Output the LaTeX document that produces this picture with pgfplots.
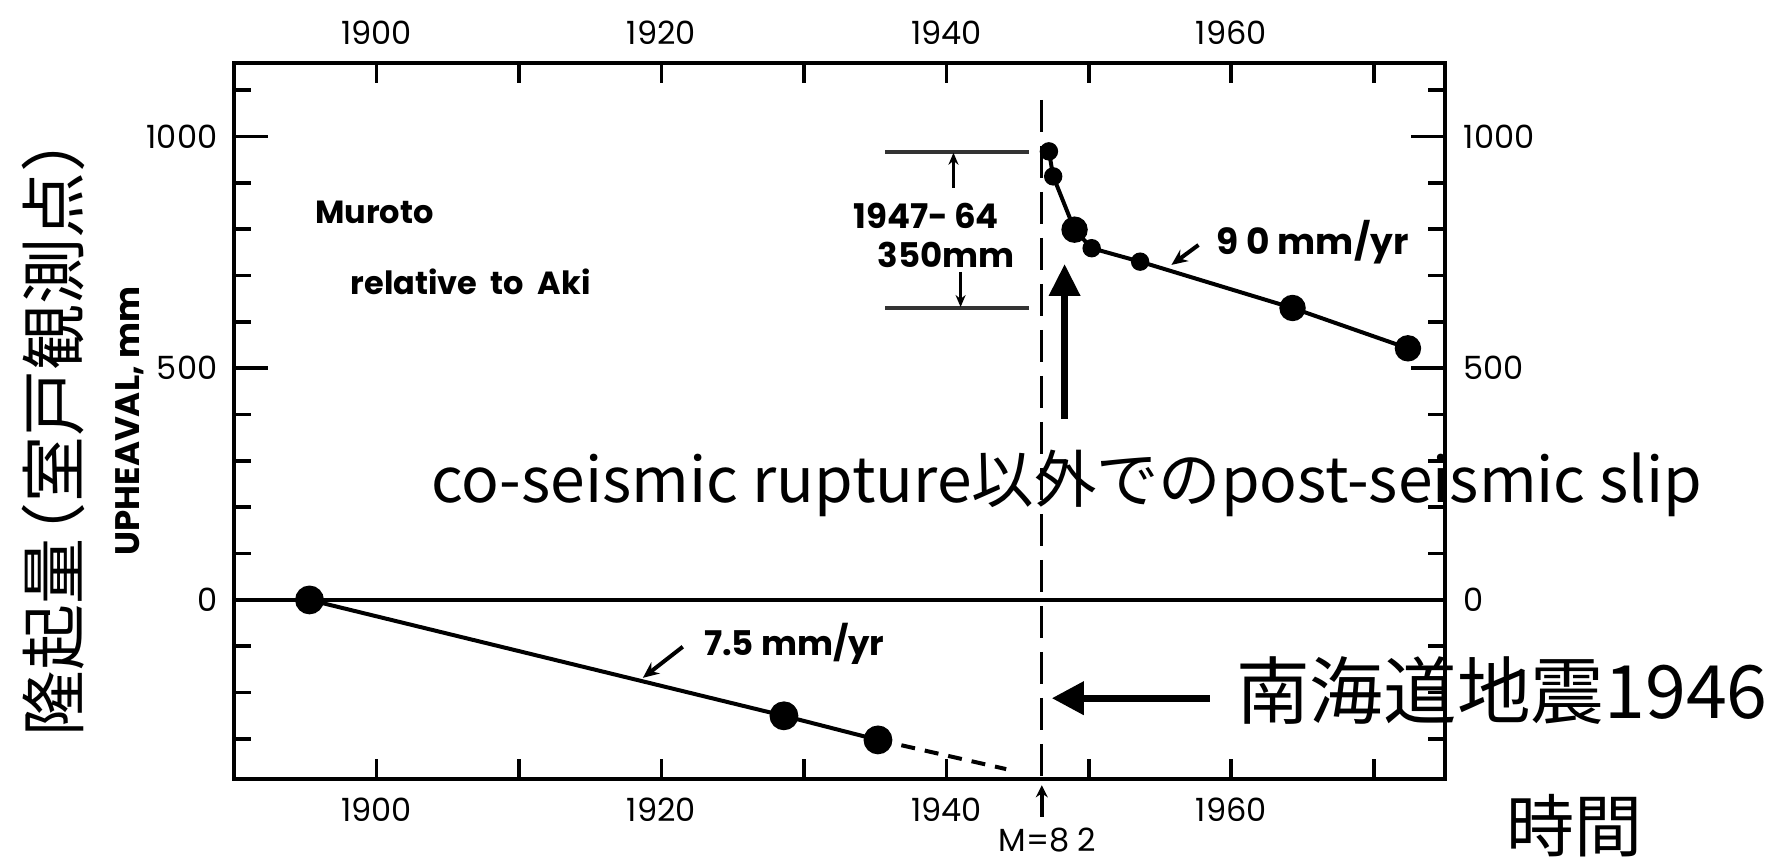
\documentclass[border=0pt]{standalone}
\usepackage{fontspec}
\setmainfont{Poppins}
\newfontfamily\jp{Noto Sans CJK JP}
\usepackage{pgfplots}
\pgfplotsset{compat=1.18}
\usetikzlibrary{arrows.meta}
\begin{document}
\begin{tikzpicture}
\pgfplotsset{
  base/.style={
    at={(0pt,0pt)}, anchor=south west,
    scale only axis, width=302.75pt, height=179pt,
    xmin=1890, xmax=1975, ymin=-387, ymax=1158,
    axis line style={line width=1pt},
    /pgf/number format/assume math mode=true,
    tick style={line width=0.9pt, black},
    ticklabel style={font=\fontsize{8}{9}\selectfont},
  }
}
% axis 2: y ticks + left labels, top x labels
\begin{axis}[base,
  ytick={0,500,1000}, minor ytick={-300,-200,...,1100},
  major tick length=8.5pt, minor tick length=4.25pt,
  yticklabel pos=left, yticklabels={0,500,1000},
  yticklabel style={inner xsep=4pt},
  xtick={1900,1920,1940,1960}, xticklabels={1900,1920,1940,1960},
  xticklabel pos=upper, xtick style={draw=none},
  xticklabel style={inner ysep=4.5pt},
]
\end{axis}
% axis 3: right labels
\begin{axis}[base,
  ytick={0,500,1000}, yticklabels={0,500,1000},
  yticklabel pos=right, ytick style={draw=none},
  yticklabel style={inner xsep=4.5pt},
  xtick=\empty,
]
\end{axis}
% axis 1: data, x ticks, bottom labels
\begin{axis}[base, clip=false,
  xtick={1900,1910,...,1970},
  xticklabels={1900,,1920,,1940,,1960,},
  xticklabel pos=lower,
  xticklabel style={inner ysep=4.5pt},
  major tick length=5pt,
  ytick=\empty,
]
% zero line
\draw[line width=1.2pt] (axis cs:1890,0) -- (axis cs:1943.3,0);
\draw[line width=0.8pt] (axis cs:1943.3,0) -- (axis cs:1975,0);
% event line
\draw[line width=0.75pt, dash pattern=on 8pt off 3.5pt] (axis cs:1946.7,1079) -- (axis cs:1946.7,-387);
\draw[line width=0.9pt, -{Stealth[length=3pt,width=3pt]}] (axis cs:1946.7,-468) -- (axis cs:1946.7,-400);
\node[font=\fontsize{8}{9}\selectfont] at (axis cs:1947.1,-518) {M=8 2};
% data
\addplot[line width=1pt, black, mark=*, mark size=3.1pt, mark options={fill=black}] coordinates {(1895.3,0) (1928.6,-250) (1935.2,-302)};
\addplot[line width=1pt, black, dash pattern=on 3.5pt off 2.5pt] coordinates {(1935.2,-302) (1944.2,-365)};
\addplot[line width=1pt, black, mark=none] coordinates {(1947.2,968) (1947.5,914) (1949.0,799) (1950.2,759) (1953.6,730) (1964.3,630) (1972.4,543)};
\addplot[only marks, black, mark=*, mark size=3.1pt, mark options={fill=black}] coordinates {(1949.0,799) (1964.3,630) (1972.4,543)};
\addplot[only marks, black, mark=*, mark size=2.1pt, mark options={fill=black}] coordinates {(1947.2,968) (1947.5,914) (1950.2,759) (1953.6,730)};
% bracket
\draw[line width=1pt, black!80] (axis cs:1935.7,967) -- (axis cs:1945.8,967);
\draw[line width=1pt, black!80] (axis cs:1935.7,630) -- (axis cs:1945.8,630);
\draw[line width=0.8pt, -{Stealth[length=3pt,width=2.5pt]}] (axis cs:1940.5,889) -- (axis cs:1940.5,965);
\draw[line width=0.8pt, -{Stealth[length=3pt,width=2.5pt]}] (axis cs:1941.0,708) -- (axis cs:1941.0,632);
\node[font=\bfseries\fontsize{8.5}{9}\selectfont] at (axis cs:1938.6,829) {1947-\,64};
\node[font=\bfseries\fontsize{8.5}{9}\selectfont] at (axis cs:1940.0,745) {350mm};
% texts
\node[anchor=west, font=\bfseries\fontsize{8}{9}\selectfont] at (axis cs:1894.7,837) {Muroto};
\node[anchor=west, font=\bfseries\fontsize{8}{9}\selectfont] at (axis cs:1897.2,686) {relative\ \ to\ \ Aki};
\node[anchor=west, font=\bfseries\fontsize{9}{10}\selectfont] at (axis cs:1958.0,773) {9 0 mm/yr};
\draw[line width=1pt, -{Stealth[length=4pt,width=3.5pt]}] (axis cs:1957.7,766) -- (axis cs:1955.8,723);
\node[anchor=west, font=\bfseries\fontsize{8.5}{10}\selectfont] at (axis cs:1922.0,-95) {7.5 mm/yr};
\draw[line width=1pt, -{Stealth[length=4pt,width=3.5pt]}] (axis cs:1921.5,-101) -- (axis cs:1918.7,-168);
% big arrows
\draw[line width=1.7pt, -{Triangle[length=8pt,width=7.5pt]}] (axis cs:1948.3,390) -- (axis cs:1948.3,725);
\draw[line width=1.7pt, -{Triangle[length=8pt,width=8pt]}] (axis cs:1958.5,-212) -- (axis cs:1947.4,-212);
\node[anchor=base west, inner sep=0pt, font=\jp\fontsize{15.6}{18}\selectfont] at (axis cs:1903.8,211) {co-seismic rupture以外でのpost-seismic slip};
\node[anchor=base west, inner sep=0pt, font=\jp\fontsize{18.4}{20}\selectfont] at (axis cs:1960.3,-255) {南海道地震1946};
\node[font=\jp\fontsize{17}{20}\selectfont] at (axis cs:1984.1,-488) {時間};
% y labels
\node[rotate=90, inner sep=0pt, font=\jp\fontsize{16.5}{20}\selectfont] at (axis cs:1877.3,385) {隆起量\kern-0.45em（室戸観測点）};
\node[rotate=90, font=\bfseries\fontsize{8.5}{9}\selectfont] at (axis cs:1882.7,386) {UPHEAVAL, mm};
\end{axis}
\pgfresetboundingbox
\useasboundingbox (-58.5pt,-19.675pt) rectangle (386pt,194.825pt);
\end{tikzpicture}
\end{document}
